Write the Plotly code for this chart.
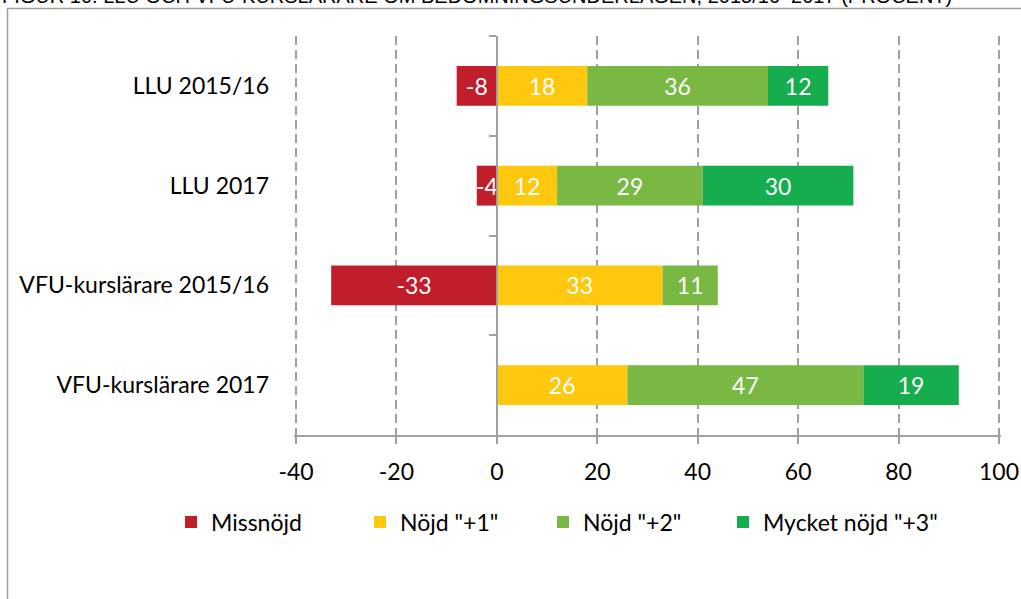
import plotly.graph_objects as go

categories = ["LLU 2015/16", "LLU 2017", "VFU-kurslärare 2015/16", "VFU-kurslärare 2017"]
series_names = ["Missnöjd", 'Nöjd "+1"', 'Nöjd "+2"', 'Mycket nöjd "+3"']
missnojd = [-8, -4, -33, None]
nojd1 = [18, 12, 33, 26]
nojd2 = [36, 29, 11, 47]
nojd3 = [12, 30, None, 19]
x_ticks = [-40, -20, 0, 20, 40, 60, 80, 100]
title_text = "FIGUR 10. LLU OCH VFU-KURSLÄRARE OM BEDÖMNINGSUNDERLAGEN, 2015/16–2017 (PROCENT)"

colors = ["#BF1E2A", "#FDC80E", "#78B843", "#15AD4E"]
values = [missnojd, nojd1, nojd2, nojd3]

FONT = "Lato"
GRAY = "#A0A0A0"
X_RANGE = [-40.4, 100.4]
ML, MR, MT, MB = 294, 20, 36, 164
W, H = 1021, 599
PW = W - ML - MR
PH = H - MT - MB

# left pixel position of each legend entry (one legend per series)
legend_left_px = [171, 360, 543, 723]
legend_center_y_px = 522

fig = go.Figure()
for i, (name, vals, col) in enumerate(zip(series_names, values, colors)):
    fig.add_trace(go.Bar(
        y=categories, x=vals, name=name, orientation="h",
        marker=dict(color=col, line=dict(width=0)),
        text=[("" if v is None else str(v)) for v in vals],
        textposition="inside", insidetextanchor="middle",
        constraintext="none",
        textfont=dict(family=FONT, size=23, color="white"),
        hoverinfo="skip",
        legend="legend" if i == 0 else f"legend{i + 1}",
    ))

# invisible helper trace for the axis line at x=0 (ticks on category boundaries)
fig.add_trace(go.Scatter(
    y=categories, x=[0] * len(categories), yaxis="y2", mode="markers",
    marker=dict(opacity=0), showlegend=False, hoverinfo="skip",
))

legends = {}
for i, lx in enumerate(legend_left_px):
    key = "legend" if i == 0 else f"legend{i + 1}"
    legends[key] = dict(
        orientation="h",
        x=(lx - ML) / PW, xanchor="left",
        y=(H - MB - legend_center_y_px) / PH, yanchor="middle",
        font=dict(family=FONT, size=23, color="black"),
        itemclick=False, itemdoubleclick=False,
        bgcolor="rgba(0,0,0,0)",
    )

fig.update_layout(
    width=W, height=H,
    margin=dict(l=ML, r=MR, t=MT, b=MB, autoexpand=False),
    paper_bgcolor="white", plot_bgcolor="white",
    barmode="relative", bargap=0.6,
    font=dict(family=FONT, size=23, color="black"),
    xaxis=dict(
        range=X_RANGE, tickvals=x_ticks, ticktext=[str(t) for t in x_ticks],
        showgrid=True, gridcolor=GRAY, gridwidth=1.5, griddash="9px,5px",
        zeroline=False, automargin=False,
        showline=True, linecolor=GRAY, linewidth=2,
        ticks="outside", ticklen=7, tickwidth=2, tickcolor=GRAY,
        ticklabelstandoff=8,
        tickfont=dict(family=FONT, size=23, color="black"),
        fixedrange=True,
    ),
    yaxis=dict(
        type="category", categoryorder="array", categoryarray=categories,
        autorange="reversed", automargin=False,
        showgrid=False, zeroline=False, showline=False, ticks="",
        ticklabelstandoff=24,
        tickfont=dict(family=FONT, size=23, color="black"),
        fixedrange=True,
    ),
    yaxis2=dict(
        type="category", categoryorder="array", categoryarray=categories,
        overlaying="y", matches="y", anchor="free", automargin=False,
        position=(0 - X_RANGE[0]) / (X_RANGE[1] - X_RANGE[0]),
        showgrid=False, zeroline=False,
        showline=True, linecolor=GRAY, linewidth=2,
        ticks="outside", ticklen=7, tickwidth=2, tickcolor=GRAY,
        tickson="boundaries", showticklabels=False,
        fixedrange=True,
    ),
    showlegend=True,
    **legends,
)

# chart frame (partly outside the window, as in the reference)
fig.add_shape(type="rect", xref="paper", yref="paper",
              x0=(7.5 - ML) / PW, x1=1.2, y0=-0.6, y1=(H - MB - 8.5) / PH,
              line=dict(color=GRAY, width=1.5), fillcolor="rgba(0,0,0,0)", layer="below")

fig.add_annotation(
    text=title_text, xref="paper", yref="paper",
    x=-ML / PW, y=1.068, xanchor="left", yanchor="bottom",
    showarrow=False, font=dict(family="Liberation Sans", size=20, color="black"),
)

fig.write_html("out.html", config={"displayModeBar": False},
               post_script="document.body.style.margin='0';")
